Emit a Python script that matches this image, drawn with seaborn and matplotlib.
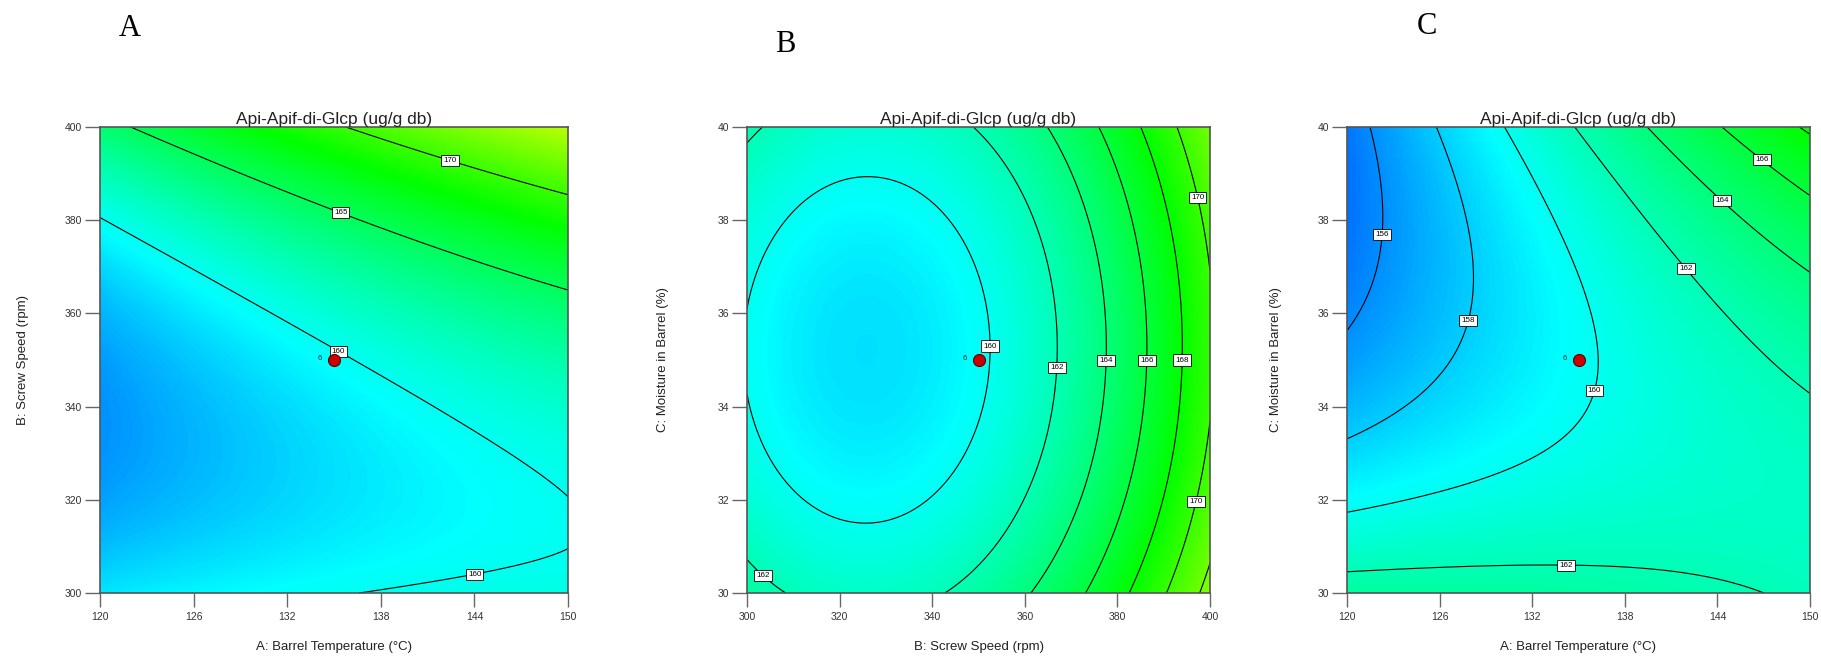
import numpy as np
import matplotlib
matplotlib.use("Agg")
import matplotlib.pyplot as plt
import seaborn as sns
import pandas as pd
from matplotlib.colors import LinearSegmentedColormap, Normalize

# ---- data ----
# quadratic response-surface coefficients (coded factors A, B, C):
# [b0, A, B, C, AB, AC, BC, A^2, B^2, C^2]
model_coef = [159.748, 2.990, 4.911, -0.255, 2.181, 3.496, -0.059, -0.326, 5.080, 2.612]
temp_range = [120, 150]      # A: Barrel Temperature (°C)
speed_range = [300, 400]     # B: Screw Speed (rpm)
moist_range = [30, 40]       # C: Moisture in Barrel (%)
temp_ticks = [120, 126, 132, 138, 144, 150]
speed_ticks = [300, 320, 340, 360, 380, 400]
moist_ticks = [30, 32, 34, 36, 38, 40]
levels_A = [160, 165, 170]
levels_B = [160, 162, 164, 166, 168, 170, 172]
levels_C = [156, 158, 160, 162, 164, 166, 168]
center_point = {"A": 135, "B": 350, "C": 35}
center_runs = "6"
panel_letters = ["A", "B", "C"]
title = "Api-Apif-di-Glcp (ug/g db)"
label_A = "A: Barrel Temperature (°C)"
label_B = "B: Screw Speed (rpm)"
label_C = "C: Moisture in Barrel (%)"
# contour label spots
lab_pos_A = [(135.4, 352.6), (144.0, 304.5), (135.5, 382.2), (142.5, 393.4)]
lab_pos_B = [(352.3, 35.3), (366.6, 34.85), (377.4, 35.0), (386.0, 35.0), (393.9, 35.0),
             (397.4, 38.48), (396.6, 31.97), (303.7, 30.4)]
lab_pos_C = [(122.3, 37.7), (127.75, 35.85), (135.9, 34.35), (134.2, 30.68),
             (142.05, 36.98), (144.4, 38.46), (147.0, 39.34)]

def code(v, rng):
    lo, hi = rng
    return (np.asarray(v, float) - (lo + hi) / 2) / ((hi - lo) / 2)

def response(a, b, c):
    k = model_coef
    return (k[0] + k[1]*a + k[2]*b + k[3]*c + k[4]*a*b + k[5]*a*c + k[6]*b*c
            + k[7]*a*a + k[8]*b*b + k[9]*c*c)

sns.set_theme(style="white")
plt.rcParams['font.family'] = ['Liberation Sans', 'DejaVu Sans']

W, H = 1821, 657
fig = plt.figure(figsize=(W/100, H/100), dpi=100)
fig.patch.set_facecolor('white')

cmap = LinearSegmentedColormap.from_list(
    'de', [(0.0, (0, 0, 1)), (8/33.5, (0, 1, 1)), (16.5/33.5, (0, 1, 0)),
           (25.5/33.5, (1, 1, 0)), (1.0, (1, 0, 0))])
norm = Normalize(151.5, 185.0)

boxes = [(100, 127, 468, 466), (747, 127, 463, 466), (1347, 127, 463, 466)]
ylab_x = [-0.152, -0.169, -0.141]
letter_xy = [(130, 29), (785, 45), (1427, 26)]

panels = [
    (label_A, label_B, temp_range, speed_range, levels_A, temp_ticks, speed_ticks, lab_pos_A, ("A", "B")),
    (label_B, label_C, speed_range, moist_range, levels_B, speed_ticks, moist_ticks, lab_pos_B, ("B", "C")),
    (label_A, label_C, temp_range, moist_range, levels_C, temp_ticks, moist_ticks, lab_pos_C, ("A", "C")),
]
ranges = {"A": temp_range, "B": speed_range, "C": moist_range}

for i, (bx, (xl, yl, xr, yr, lv, xt, yt, lp, fac)) in enumerate(zip(boxes, panels)):
    ax = fig.add_axes([bx[0]/W, 1-(bx[1]+bx[3])/H, bx[2]/W, bx[3]/H])
    gx = np.linspace(xr[0], xr[1], 300)
    gy = np.linspace(yr[0], yr[1], 300)
    GX, GY = np.meshgrid(gx, gy)
    coded = {"A": 0.0, "B": 0.0, "C": 0.0}
    coded[fac[0]] = code(GX, ranges[fac[0]])
    coded[fac[1]] = code(GY, ranges[fac[1]])
    Z = response(coded["A"], coded["B"], coded["C"])
    ax.pcolormesh(GX, GY, Z, cmap=cmap, norm=norm, shading='gouraud', rasterized=True)
    cs = ax.contour(GX, GY, Z, levels=lv, colors='black', linewidths=0.8)
    txts = ax.clabel(cs, manual=lp, inline=False, fmt='%d', fontsize=5.8, colors='black')
    for t in txts:
        t.set_rotation(0)
        t.set_bbox(dict(facecolor='white', edgecolor='black', boxstyle='square,pad=0.25', linewidth=0.6))
    # center point
    df = pd.DataFrame({"x": [center_point[fac[0]]], "y": [center_point[fac[1]]]})
    sns.scatterplot(data=df, x="x", y="y", ax=ax, color='#cc0000', edgecolor='#5a0000',
                    s=75, linewidth=0.8, zorder=5, legend=False)
    ax.annotate(center_runs, (center_point[fac[0]], center_point[fac[1]]), xytext=(-10, 1),
                textcoords='offset points', fontsize=5.5, ha='center', va='center', color='#222222')
    ax.set_xlim(*xr); ax.set_ylim(*yr)
    ax.set_xticks(xt); ax.set_yticks(yt)
    ax.set_xticklabels([str(v) for v in xt]); ax.set_yticklabels([str(v) for v in yt])
    ax.tick_params(axis='both', which='major', direction='out', width=1,
                   color='#666666', labelsize=7.5, labelcolor='#333333',
                   bottom=True, left=True)
    ax.tick_params(axis='x', length=10, pad=4)
    ax.tick_params(axis='y', length=11, pad=2)
    for sp in ax.spines.values():
        sp.set_color('#555555'); sp.set_linewidth(1.2)
    ax.set_xlabel(xl, fontsize=9.5, color='#222222')
    ax.set_ylabel(yl, fontsize=9.5, color='#222222')
    ax.xaxis.set_label_coords(0.5, -0.102)
    ax.yaxis.set_label_coords(ylab_x[i], 0.5)
    ax.set_title(title, fontsize=12.5, color='#222222', pad=2)
    fig.text(letter_xy[i][0]/W, 1-letter_xy[i][1]/H, panel_letters[i], fontsize=22,
             family=['Liberation Serif', 'DejaVu Serif'], ha='center', va='center', color='black')

fig.savefig('out.png', dpi=100)
